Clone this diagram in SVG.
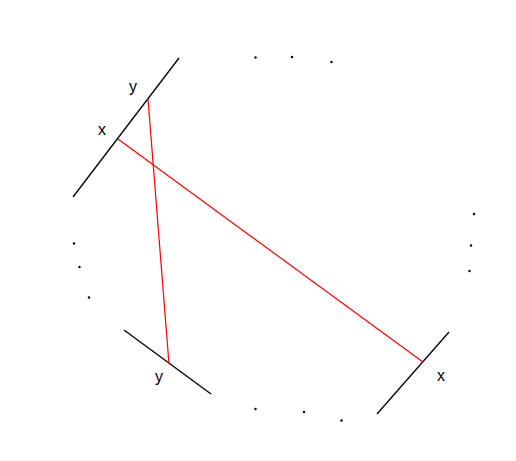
<svg xmlns="http://www.w3.org/2000/svg" width="516" height="461" viewBox="0 0 516 461">
<style>
.seg{stroke:#000;stroke-width:1.3;fill:none}
.conn{stroke:#ff0000;stroke-width:1.2;fill:none}
.dot{fill:#000}
.lbl{font-family:"Liberation Sans",Arial,sans-serif;font-size:16px;fill:#000;text-anchor:middle}
</style>
<rect width="516" height="461" fill="#fff"/>
<g id="node-top-left">
<line class="seg" x1="73" y1="197" x2="179" y2="58"/>
<text class="lbl" x="133" y="91.5">y</text>
<text class="lbl" x="102" y="134.5">x</text>
</g>
<g id="node-bottom-left">
<line class="seg" x1="124" y1="330" x2="211" y2="394"/>
<text class="lbl" x="159" y="382">y</text>
</g>
<g id="node-bottom-right">
<line class="seg" x1="377" y1="414" x2="449" y2="332"/>
<text class="lbl" x="441" y="381">x</text>
</g>
<g id="dots">
<circle class="dot" cx="255.5" cy="57.5" r="1.2"/>
<circle class="dot" cx="292" cy="57" r="1.2"/>
<circle class="dot" cx="331.5" cy="62" r="1.2"/>
<circle class="dot" cx="474" cy="214" r="1.2"/>
<circle class="dot" cx="471" cy="245.5" r="1.2"/>
<circle class="dot" cx="469.5" cy="271" r="1.2"/>
<circle class="dot" cx="74" cy="243.5" r="1.2"/>
<circle class="dot" cx="79.5" cy="267" r="1.2"/>
<circle class="dot" cx="89" cy="297.5" r="1.2"/>
<circle class="dot" cx="255.5" cy="409" r="1.2"/>
<circle class="dot" cx="304" cy="412" r="1.2"/>
<circle class="dot" cx="341.5" cy="420.5" r="1.2"/>
</g>
<g id="connectors">
<line class="conn" x1="148" y1="99" x2="169" y2="364"/>
<line class="conn" x1="118" y1="139" x2="423" y2="362"/>
</g>
</svg>
